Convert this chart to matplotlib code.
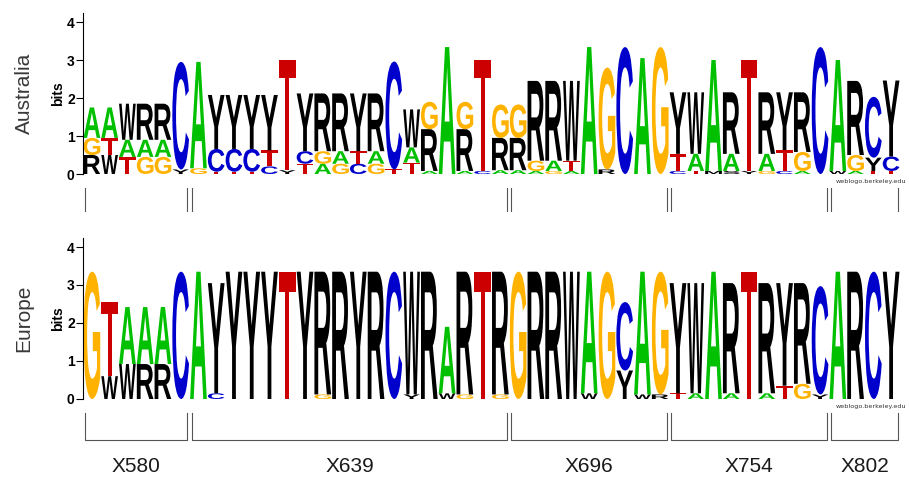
import matplotlib
matplotlib.use('Agg')
import matplotlib.pyplot as plt
from matplotlib.textpath import TextPath
from matplotlib.font_manager import FontProperties
from matplotlib.patches import PathPatch
from matplotlib.transforms import Affine2D

# ---------------- data ----------------
AUS_LETTERS = ["RGA", "WTA", "TAW", "GAR", "GAR", "YC", "GA", "TCY", "TCY", "TCY", "CTY", "YT",
               "TCY", "AGR", "GAR", "CTY", "GAR", "TC", "TAW", "ARG", "A", "ARG", "CT", "ARG",
               "ARG", "AGR", "GAR", "ATW", "A", "RG", "C", "A", "G",
               "CTY", "TAW", "MA", "SAR", "YT", "GAR", "CTY", "AGR", "C",
               "WA", "AGR", "TYC", "TCY"]
AUS_HEIGHTS = [[.5, .45, .8], [.5, .45, .8], [.45, .45, .95], [.45, .45, .95], [.45, .45, .95],
               [.12, 2.83], [.15, 2.8], [.06, .6, 1.42], [.06, .6, 1.42], [.06, .6, 1.42],
               [.2, .42, 1.46], [.1, 2.9],
               [.27, .33, 1.52], [.27, .33, 1.52], [.27, .33, 1.52], [.27, .33, 1.52], [.27, .33, 1.52],
               [.12, 2.84], [.3, .4, 1.0], [.08, 1.1, .72], [3.34], [.08, 1.1, .72], [.08, 2.92],
               [.1, .85, .88],
               [.1, .85, .88], [.08, .27, 2.1], [.08, .27, 2.1], [.08, .27, 2.1], [3.34], [.12, 2.68],
               [3.34], [3.05], [3.34],
               [.08, .45, 1.62], [.08, .45, 1.62], [.08, 2.92], [.08, .45, 1.62], [.08, 2.92],
               [.08, .45, 1.62], [.08, .55, 1.52], [.08, .5, 1.57], [3.34],
               [.08, 2.92], [.08, .42, 1.95], [.08, .35, 1.6], [.08, .38, 2.0]]

EU_LETTERS = ["G", "WT", "WA", "RA", "RA", "C", "A", "CY", "Y", "Y", "Y", "T",
              "Y", "GR", "R", "Y", "R", "C", "YW", "R", "WA", "GR", "T", "GR",
              "G", "R", "R", "W", "WA", "G", "YC", "WA", "RG",
              "TY", "AW", "A", "AR", "T", "AR", "TY", "GR", "YC",
              "A", "R", "C", "Y"]
EU_HEIGHTS = [[3.35], [.6, 1.95], [.92, 1.5], [.92, 1.5], [.92, 1.5], [3.35], [3.35], [.15, 2.9],
              [3.35], [3.35], [3.35], [3.35],
              [3.35], [.12, 3.23], [3.35], [3.35], [3.35], [3.35], [.12, 3.23], [3.35], [.15, 1.75],
              [.12, 3.23], [3.35], [.12, 3.23],
              [3.35], [3.35], [3.35], [3.35], [.15, 3.2], [3.35], [.75, 1.8], [.12, 3.23], [.12, 3.23],
              [.15, 2.9], [.15, 2.9], [3.35], [.15, 2.9], [3.35], [.15, 2.9], [.35, 2.7], [.4, 2.65],
              [.12, 2.85],
              [3.35], [3.35], [3.35], [3.35]]

PANEL_NAMES = ["Australia", "Europe"]
SEGMENT_NAMES = ["X580", "X639", "X696", "X754", "X802"]
SEGMENT_STARTS = [1, 7, 25, 34, 43]
SEGMENT_ENDS = [6, 24, 33, 42, 46]
YTICKS = [0, 1, 2, 3, 4]

COLORS = {"A": "#00C000", "C": "#0000CC", "G": "#FFB300", "T": "#CC0000"}

# ---------------- drawing ----------------
W, H = 909, 480
fig = plt.figure(figsize=(W / 100, H / 100), dpi=100)
fp = FontProperties(family="Liberation Sans", weight="bold")

NPOS = len(AUS_LETTERS)
X0PX, X1PX = 83, 900


def px_axes(left, top, right, bottom):
    return fig.add_axes([left / W, 1 - bottom / H, (right - left) / W, (bottom - top) / H])


def draw_letter(ax, letter, x, y0, w, h):
    if h <= 0:
        return
    tp = TextPath((0, 0), letter, size=1, prop=fp)
    bb = tp.get_extents()
    tr = Affine2D().translate(-bb.x0, -bb.y0).scale(w / bb.width, h / bb.height).translate(x - w / 2, y0)
    path = tr.transform_path(tp)
    ax.add_patch(PathPatch(path, facecolor=COLORS.get(letter, "black"), edgecolor="none", lw=0))


def draw_logo(ax, letters, heights, name):
    ax.set_xlim(0.5, NPOS + 0.5)
    ax.set_ylim(0, 4.25)
    for i, (stack, hs) in enumerate(zip(letters, heights)):
        y = 0.0
        for letter, h in zip(stack, hs):
            draw_letter(ax, letter, i + 1, y, 0.94, h)
            y += h
    for s in ["top", "right", "bottom"]:
        ax.spines[s].set_visible(False)
    ax.spines["left"].set_linewidth(0.8)
    ax.set_xticks([])
    ax.set_yticks(YTICKS)
    ax.set_yticklabels([str(t) for t in YTICKS], fontsize=10, fontweight="bold",
                       family="Liberation Sans")
    ax.tick_params(axis="y", length=5, width=0.8, pad=1)
    ax.set_ylabel("bits", fontsize=10, fontweight="bold", family="Liberation Sans", labelpad=1)
    ax.text(-0.072, 0.5, name, transform=ax.transAxes, rotation=90, ha="center", va="center",
            fontsize=15, color="#383838", family="Liberation Sans")
    ax.text(1.008, -0.03, "weblogo.berkeley.edu", transform=ax.transAxes, fontsize=4.6,
            color="#333333", ha="right", va="top", clip_on=False)


ax1 = px_axes(X0PX, 12.5, X1PX, 174)
draw_logo(ax1, AUS_LETTERS, AUS_HEIGHTS, PANEL_NAMES[0])
ax2 = px_axes(X0PX, 237.5, X1PX, 399)
draw_logo(ax2, EU_LETTERS, EU_HEIGHTS, PANEL_NAMES[1])

INSET = 0.12
LINE_COLOR = "#555555"
# ticks between panels
axm = px_axes(X0PX, 188, X1PX, 212)
axm.set_xlim(0.5, NPOS + 0.5)
axm.set_ylim(0, 1)
axm.axis("off")
for s, e in zip(SEGMENT_STARTS, SEGMENT_ENDS):
    for xx in (s - 0.5 + INSET, e + 0.5 - INSET):
        axm.plot([xx, xx], [0, 1], color=LINE_COLOR, lw=0.8)

# bottom brackets and labels
axb = px_axes(X0PX, 410, X1PX, 480)
axb.set_xlim(0.5, NPOS + 0.5)
axb.set_ylim(70, 0)
axb.axis("off")
for name, s, e in zip(SEGMENT_NAMES, SEGMENT_STARTS, SEGMENT_ENDS):
    xa, xb = s - 0.5 + INSET, e + 0.5 - INSET
    axb.plot([xa, xa, xb, xb], [3, 30, 30, 3], color=LINE_COLOR, lw=0.8)
    axb.text((xa + xb) / 2, 56, name, ha="center", va="center", fontsize=15,
             family="Liberation Sans", color="#1a1a1a")

fig.savefig("out.png", dpi=100)
